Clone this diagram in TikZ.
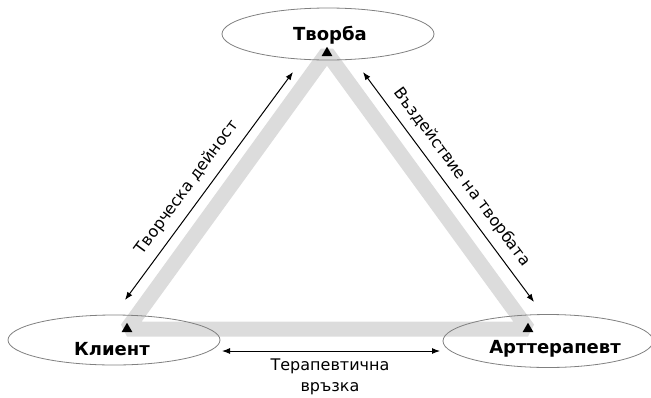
\documentclass[tikz,border=0pt]{standalone}
\usepackage{fontspec}
\setmainfont{DejaVu Sans}[Language=Bulgarian]
\usetikzlibrary{arrows.meta}
\usetikzlibrary{shapes.geometric}
\definecolor{bandgray}{RGB}{220,220,220}

\begin{document}
\begin{tikzpicture}[x=1pt,y=-1pt,
    oval/.style={draw=black!50, line width=0.8pt, ellipse, inner sep=0pt},
    marker/.style={regular polygon, regular polygon sides=3, fill=black, minimum size=12.5pt, inner sep=0pt},
    band/.style={draw=bandgray, line width=15pt, line join=bevel},
    link/.style={{Latex[length=8pt,width=6pt]}-{Latex[length=8pt,width=6pt]}, line width=1pt},
    title/.style={font=\fontsize{18}{21}\selectfont\bfseries, anchor=base},
    caption/.style={font=\fontsize{16}{21}\selectfont}]
    \useasboundingbox (0,0) rectangle (651,397);
    \coordinate (top) at (327,53);
    \coordinate (left) at (127,329);
    \coordinate (right) at (528,329);
    \draw[band] (top) -- (left) -- (right) -- cycle;
    \node[oval, minimum width=212pt, minimum height=52pt] (tvorba) at (328,34) {};
    \node[oval, minimum width=212pt, minimum height=50pt] (klient) at (114,340) {};
    \node[oval, minimum width=210pt, minimum height=53pt] (terapevt) at (548,341) {};
    \node[marker] (mtop) at (top) {};
    \node[marker] (mleft) at (left) {};
    \node[marker] (mright) at (right) {};
    \node[title] at (330,40) {Творба};
    \node[title] at (112,355) {Клиент};
    \node[title] at (555,353) {Арттерапевт};
    \coordinate (l1) at (125,300);
    \coordinate (l2) at (293,72);
    \coordinate (r1) at (363,72);
    \coordinate (r2) at (534,302);
    \coordinate (b1) at (222,351);
    \coordinate (b2) at (440,351);
    \draw[link] (l1) -- node[caption, sloped, above=5pt, pos=0.45] {Творческа дейност} (l2);
    \draw[link] (r1) -- node[caption, sloped, above=5pt] {Въздействие на творбата} (r2);
    \draw[link] (b1) -- (b2);
    \node[caption, align=center, anchor=north] at (330,355) {Терапевтична\\връзка};
\end{tikzpicture}
\end{document}
